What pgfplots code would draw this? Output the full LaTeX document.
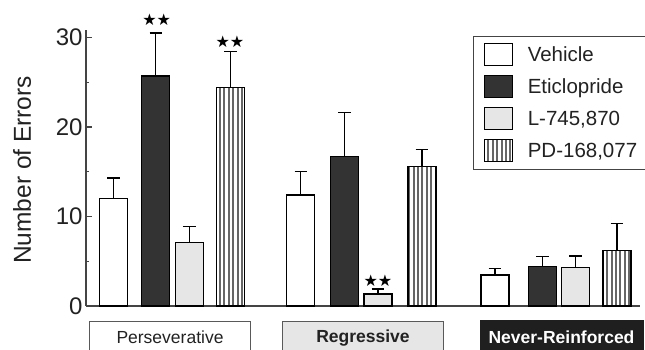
\documentclass[border=0pt]{standalone}
\usepackage{fontspec}
\setmainfont{Liberation Sans}
\newfontfamily\djv{DejaVu Sans}
\usepackage{pgfplots}
\pgfplotsset{compat=1.18}
\usetikzlibrary{patterns.meta}

\definecolor{eti}{HTML}{333333}
\definecolor{lsev}{HTML}{E6E6E6}
\definecolor{axc}{HTML}{444444}
\definecolor{txt}{HTML}{222222}
\definecolor{stripe}{HTML}{666666}

\pgfplotsset{
  mybar/.style={ybar, bar width=28, bar shift=0pt, draw=black, line width=1.3pt,
    error bars/y dir=plus, error bars/y explicit,
    error bars/error mark options={rotate=90, mark size=6.3pt, line width=1.3pt, black},
    error bars/error bar style={line width=1.3pt, black}},
}

\begin{document}
\begin{tikzpicture}
\begin{axis}[
 scale only axis, width=554pt, height=275.66pt,
 xmin=86, xmax=640, ymin=0, ymax=30.8,
 axis x line*=bottom, axis y line*=left,
 axis line style={line width=1.3pt, color=axc},
 xtick=\empty,
 ytick={0,10,20,30}, minor ytick={5,15,25},
 tick align=inside, major tick length=6pt, minor tick length=3.5pt,
 tick style={line width=1.2pt, color=axc},
 yticklabel style={font=\fontsize{24}{24}\selectfont, text=txt},
 /pgf/number format/assume math mode=true,
 clip=false,
 legend style={at={(axis cs:473.3,30.17)}, anchor=north west, draw=axc, line width=1pt,
   inner xsep=10pt, inner ysep=7pt, row sep=9pt,
   font=\fontsize{20.5}{20.5}\selectfont, text=txt, nodes={inner sep=0pt},
   /tikz/every odd column/.append style={column sep=15pt}},
 legend cell align=left,
 legend image code/.code={\draw[#1, line width=1pt] (0pt,-11pt) rectangle (28pt,11pt);},
]
\addplot[mybar, fill=white] coordinates {(113.5,12.0) +- (0,2.3) (300.8,12.4) +- (0,2.6) (495,3.46) +- (0,0.75)};
\addlegendentry{Vehicle}
\addplot[mybar, fill=eti] coordinates {(155.8,25.7) +- (0,4.8) (344.5,16.7) +- (0,4.9) (542.5,4.4) +- (0,1.1)};
\addlegendentry{Eticlopride}
\addplot[mybar, fill=lsev] coordinates {(189.2,7.07) +- (0,1.85) (378,1.34) +- (0,0.55) (575.5,4.3) +- (0,1.3)};
\addlegendentry{L-745,870}
\addplot[mybar, pattern={Lines[angle=90, distance=4.4pt, line width=2pt]}, pattern color=stripe] coordinates {(230.5,24.4) +- (0,4.0) (422,15.6) +- (0,1.9) (617,6.2) +- (0,3.0)};
\addlegendentry{PD-168,077}

\node[font=\djv\fontsize{16}{16}\selectfont] at (axis cs:156.7,31.96) {★★};
\node[font=\djv\fontsize{16}{16}\selectfont] at (axis cs:230,29.55) {★★};
\node[font=\djv\fontsize{16}{16}\selectfont] at (axis cs:378,2.79) {★★};

\draw[draw=gray!70!black, line width=1pt, fill=white] (axis cs:90,-1.754) rectangle (axis cs:250,-5.2);
\node[font=\fontsize{17.5}{17.5}\selectfont, text=txt] at (axis cs:170,-3.53) {Perseverative};
\draw[draw=gray!70!black, line width=1pt, fill=lsev] (axis cs:282.7,-1.754) rectangle (axis cs:443.3,-5.2);
\node[font=\bfseries\fontsize{17.5}{17.5}\selectfont, text=txt] at (axis cs:363,-3.53) {Regressive};
\draw[draw=black!88, fill=black!88] (axis cs:480,-1.64) rectangle (axis cs:643,-5.2);
\node[font=\bfseries\fontsize{17.5}{17.5}\selectfont, text=white] at (axis cs:561.5,-3.53) {Never-Reinforced};

\node[rotate=90, font=\fontsize{24.5}{24.5}\selectfont, text=txt] at (axis cs:22,15.2) {Number of Errors};

\coordinate (BL) at (axis cs:0,-4.916);
\coordinate (TR) at (axis cs:645,34.19);
\end{axis}
\pgfresetboundingbox
\path[use as bounding box] (BL) rectangle (TR);
\end{tikzpicture}
\end{document}
